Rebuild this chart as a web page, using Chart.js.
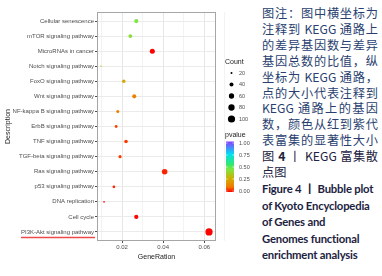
<!DOCTYPE html>
<html>
<head>
<meta charset="utf-8">
<script src="https://cdn.jsdelivr.net/npm/chart.js@4"></script>
<style>
  html, body { margin: 0; padding: 0; background: #fff; width: 382px; height: 276px; overflow: hidden; }
  #wrap { position: absolute; left: 0; top: 0; width: 262px; height: 276px; }
  .cap { position: absolute; left: 262px; width: 116px; }
  .cap div { white-space: nowrap; }
  #capCn { top: 6px; font-family: "Noto Sans CJK SC", sans-serif; font-size: 12.2px; line-height: 15.9px; color: #2a3f70; }
  #capEn { top: 181px; font-family: Lato, "Noto Sans CJK SC", sans-serif; font-weight: 700; font-size: 11.3px; letter-spacing: -0.2px; line-height: 16.5px; color: #1c2240; }
  .j { text-align: justify; text-align-last: justify; }
  .b { font-weight: 700; color: #1c2240; }
</style>
</head>
<body>
<div id="wrap"><canvas id="plot" width="262" height="276"></canvas></div>
<div class="cap" id="capCn">
  <div class="j">图注：图中横坐标为</div>
  <div class="j">注释到 KEGG 通路上</div>
  <div class="j">的差异基因数与差异</div>
  <div class="j">基因总数的比值，纵</div>
  <div class="j">坐标为 KEGG 通路，</div>
  <div class="j">点的大小代表注释到</div>
  <div class="j">KEGG 通路上的基因</div>
  <div class="j">数，颜色从红到紫代</div>
  <div class="j">表富集的显著性大小</div>
  <div class="j" style="color:#1c2240">图 <b>4</b> 丨 KEGG 富集散</div>
  <div style="color:#1c2240">点图</div>
</div>
<div class="cap" id="capEn">
  <div>Figure 4 丨 Bubble plot</div>
  <div>of Kyoto Encyclopedia</div>
  <div>of Genes and</div>
  <div>Genomes functional</div>
  <div>enrichment analysis</div>
</div>
<script>
// KEGG enrichment dot plot, top row first
const descriptions = ['Cellular senescence', 'mTOR signaling pathway', 'MicroRNAs in cancer', 'Notch signaling pathway',
    'FoxO signaling pathway', 'Wnt signaling pathway', 'NF-kappa B signaling pathway', 'ErbB signaling pathway',
    'TNF signaling pathway', 'TGF-beta signaling pathway', 'Ras signaling pathway', 'p53 signaling pathway',
    'DNA replication', 'Cell cycle', 'PI3K-Akt signaling pathway'];
const geneRatio = [0.0269, 0.0240, 0.0347, 0.0097, 0.0208, 0.0259, 0.0179, 0.0171, 0.0219, 0.0190, 0.0407, 0.0160,
    0.0112, 0.0269, 0.0623];
const counts = [43, 38, 56, 16, 33, 41, 29, 27, 35, 30, 65, 26, 18, 43, 100];
const pvalues = [0.45, 0.42, 0.002, 0.28, 0.24, 0.13, 0.12, 0.06, 0.05, 0.05, 0.03, 0.03, 0.01, 0.005, 0.001];
const xMajor = [0.02, 0.04, 0.06];
const xMinor = [0.01, 0.03, 0.05, 0.07];
const countBreaks = [20, 40, 60, 80, 100];
const pvalueBreaks = [1.00, 0.75, 0.50, 0.25, 0.00];

const FONT = "'Liberation Sans', Arial, sans-serif";

// colour stops for pvalue, red -> purple
const stops = [[0, [255, 0, 0]], [0.1, [240, 120, 0]], [0.25, [212, 170, 0]], [0.45, [127, 230, 64]],
    [0.55, [48, 232, 112]], [0.75, [0, 224, 240]], [1, [140, 60, 255]]];

function pColor(p) {
    for (let i = 1; i < stops.length; i++) {
        if (p <= stops[i][0]) {
            const a = stops[i - 1], b = stops[i];
            const t = (p - a[0]) / (b[0] - a[0]);
            const c = a[1].map((v, k) => Math.round(v + (b[1][k] - v) * t));
            return 'rgb(' + c.join(',') + ')';
        }
    }
    return 'rgb(140,60,255)';
}

// area grows linearly with the count
function radius(c) {
    return Math.sqrt(Math.max(0.35, 1 + 0.1495 * (c - 20)));
}

const points = [];
for (let i = 0; i < descriptions.length; i++) {
    points.push({ x: geneRatio[i], y: i });
}

const isMajor = (v) => xMajor.some(m => Math.abs(m - v) < 1e-6);

const panelPlugin = {
    id: 'panel',
    afterDraw(chart) {
        const { ctx, chartArea: a, scales } = chart;
        ctx.save();
        // panel border
        ctx.strokeStyle = '#a6a6a6';
        ctx.lineWidth = 1;
        ctx.strokeRect(a.left + 0.5, a.top + 0.5, a.right - a.left - 1, a.bottom - a.top - 1);

        // red underline below the last label
        const y = scales.y;
        const last = descriptions.length - 1;
        ctx.font = '6px ' + FONT;
        const w = ctx.measureText(descriptions[last]).width;
        const xe = y.right - 3;
        ctx.strokeStyle = '#ef4a4a';
        ctx.lineWidth = 1.6;
        ctx.beginPath();
        ctx.moveTo(xe - w, y.getPixelForValue(last) + 5.5);
        ctx.lineTo(xe + 1, y.getPixelForValue(last) + 5.5);
        ctx.stroke();

        // Count legend
        ctx.fillStyle = '#1a1a1a';
        ctx.font = '7px ' + FONT;
        ctx.textBaseline = 'middle';
        ctx.textAlign = 'left';
        ctx.fillText('Count', 225, 62);
        countBreaks.forEach((c, i) => {
            const cy = 73 + i * 11.5;
            ctx.fillStyle = '#000';
            ctx.beginPath();
            ctx.arc(231.5, cy, radius(c), 0, Math.PI * 2);
            ctx.fill();
            ctx.fillStyle = '#4d4d4d';
            ctx.font = '5.5px ' + FONT;
            ctx.fillText(String(c), 239, cy);
        });

        // pvalue colour bar
        ctx.fillStyle = '#1a1a1a';
        ctx.font = '7px ' + FONT;
        ctx.fillText('pvalue', 225, 135);
        const top = 141.5, bot = 192, bx = 226, bw = 8;
        const g = ctx.createLinearGradient(0, bot, 0, top);
        stops.forEach(s => g.addColorStop(s[0], 'rgb(' + s[1].join(',') + ')'));
        ctx.fillStyle = g;
        ctx.fillRect(bx, top, bw, bot - top);
        ctx.font = '5.5px ' + FONT;
        pvalueBreaks.forEach(p => {
            const ly = 191 - p * 48;
            ctx.strokeStyle = '#fff';
            ctx.lineWidth = 0.6;
            ctx.beginPath();
            ctx.moveTo(bx, ly); ctx.lineTo(bx + 1.6, ly);
            ctx.moveTo(bx + bw - 1.6, ly); ctx.lineTo(bx + bw, ly);
            ctx.stroke();
            ctx.fillStyle = '#4d4d4d';
            ctx.fillText(p.toFixed(2), 239, ly);
        });
        ctx.restore();
    }
};

const ctx = document.getElementById('plot').getContext('2d');
new Chart(ctx, {
    type: 'scatter',
    data: {
        datasets: [{
            data: points,
            pointRadius: (c) => radius(counts[c.dataIndex]),
            pointHoverRadius: (c) => radius(counts[c.dataIndex]),
            backgroundColor: (c) => pColor(pvalues[c.dataIndex]),
            borderWidth: 0
        }]
    },
    options: {
        responsive: false,
        animation: false,
        devicePixelRatio: 1,
        layout: { padding: { top: 12, right: 46, left: 0, bottom: 0 } },
        plugins: { legend: { display: false }, tooltip: { enabled: false } },
        scales: {
            x: {
                type: 'linear',
                min: 0.00777,
                max: 0.0657,
                afterBuildTicks: (s) => { s.ticks = xMinor.concat(xMajor).sort().map(v => ({ value: v })); },
                afterFit: (s) => { s.height = 35; },
                ticks: {
                    autoSkip: false,
                    maxRotation: 0,
                    padding: 1,
                    color: '#4d4d4d',
                    font: { family: FONT, size: 6 },
                    callback: (v) => isMajor(v) ? v.toFixed(2) : ''
                },
                grid: {
                    color: (c) => isMajor(c.tick.value) ? '#e6e6e6' : '#f3f3f3',
                    tickColor: (c) => isMajor(c.tick.value) ? '#4d4d4d' : 'rgba(0,0,0,0)',
                    tickLength: 2,
                    lineWidth: 1
                },
                border: { display: false },
                title: {
                    display: true,
                    text: 'GeneRation',
                    color: '#1a1a1a',
                    font: { family: FONT, size: 7 },
                    padding: { top: 0, bottom: 15 }
                }
            },
            y: {
                type: 'linear',
                reverse: true,
                min: -0.6,
                max: 14.6,
                afterBuildTicks: (s) => { s.ticks = descriptions.map((d, i) => ({ value: i })); },
                afterFit: (s) => { s.width = 97; },
                ticks: {
                    autoSkip: false,
                    padding: 1,
                    color: '#4d4d4d',
                    font: { family: FONT, size: 6 },
                    callback: (v) => descriptions[v]
                },
                grid: { color: '#ebebeb', tickColor: '#4d4d4d', tickLength: 2 },
                border: { display: false },
                title: {
                    display: true,
                    text: 'Description',
                    color: '#1a1a1a',
                    font: { family: FONT, size: 7 },
                    padding: { top: 4, bottom: 4 }
                }
            }
        }
    },
    plugins: [panelPlugin]
});
</script>
</body>
</html>
